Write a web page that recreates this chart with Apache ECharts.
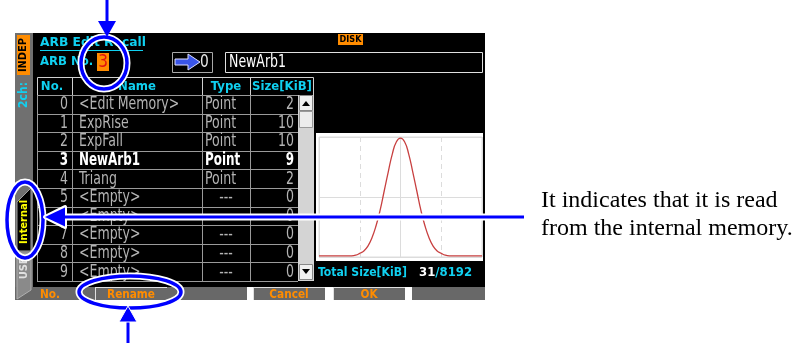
<!DOCTYPE html>
<html><head><meta charset="utf-8">
<script src="https://cdn.jsdelivr.net/npm/echarts@6/dist/echarts.min.js"></script>
<style>html,body{margin:0;padding:0;background:#fff}#c{width:792px;height:343px}</style>
</head><body><div id="c"></div>
<script>
// ---- data ----
const colNames = ['No.', 'Name', 'Type', 'Size[KiB]'];
const rowNo = [0, 1, 2, 3, 4, 5, 6, 7, 8, 9];
const rowName = ['<Edit Memory>', 'ExpRise', 'ExpFall', 'NewArb1', 'Triang', '<Empty>', '<Empty>', '<Empty>', '<Empty>', '<Empty>'];
const rowType = ['Point', 'Point', 'Point', 'Point', 'Point', '---', '---', '---', '---', '---'];
const rowSize = [2, 10, 10, 9, 2, 0, 0, 0, 0, 0];
const selectedRow = 3;
const buttons = ['No.', 'Rename', '', 'Cancel', 'OK', ''];
// waveform preview (x position 0-100 across preview, y fraction of preview height)
const waveX = [0,2.5,5,7.5,10,12.5,15,17.5,20,22.5,25,27.5,30,32.5,35,37.5,40,42.5,45,47.5,50,52.5,55,57.5,60,62.5,65,67.5,70,72.5,75,77.5,80,82.5,85,87.5,90,92.5,95,97.5,100];
const waveY = [0.01,0.01,0.01,0.01,0.01,0.01,0.01,0.01,0.01,0.015,0.03,0.05,0.09,0.16,0.26,0.39,0.55,0.71,0.86,0.96,0.99,0.96,0.86,0.71,0.55,0.39,0.26,0.16,0.09,0.05,0.03,0.015,0.01,0.01,0.01,0.01,0.01,0.01,0.01,0.01,0.01];
const totalUsed = 31, totalMax = 8192;
const arbNo = 3, targetNo = 0, arbName = 'NewArb1';
const noteLines = ['It indicates that it is read', 'from the internal memory.'];

// ---- drawing ----
const chart = echarts.init(document.getElementById('c'));
const CY = '#10d0f0', GR = '#b4b4b4', OR = '#ff8c00', LINE = '#9a9a9a';
const UIF = '"DejaVu Sans Condensed", "DejaVu Sans", sans-serif';
const g = [];
const rect = (x, y, w, h, fill, stroke, lw, z) => g.push({type: 'rect', shape: {x, y, width: w, height: h}, style: {fill: fill || 'none', stroke: stroke || null, lineWidth: lw || 1}, z: z || 1});
const text = (x, y, t, o) => g.push({type: 'text', x, y, scaleX: o.sx || 1, style: {text: t, font: o.font, fill: o.fill, textAlign: o.align || 'left', textVerticalAlign: 'middle'}, z: o.z || 3, rotation: o.rot || 0});
const line = (x1, y1, x2, y2, stroke, lw, z) => g.push({type: 'line', shape: {x1, y1, x2, y2}, style: {stroke, lineWidth: lw}, z: z || 2});

// screen background
rect(15, 33, 470, 254, '#000', null, 1, 0);
// left strip
rect(15, 33, 18, 254, '#707070', null, 1, 1);
rect(17, 35, 13, 40, OR, null, 1, 2);
text(23.5, 55, 'INDEP', {font: 'bold 11px ' + UIF, fill: '#000', align: 'center', rot: Math.PI / 2});
text(24, 95, '2ch:', {font: 'bold 12px ' + UIF, fill: CY, align: 'center', rot: Math.PI / 2});
g.push({type: 'polygon', shape: {points: [[17, 202], [31, 188], [31, 251], [17, 251]]}, style: {fill: '#000', stroke: '#a0a0a0'}, z: 2});
text(24, 222, 'Internal', {font: 'bold 11px ' + UIF, fill: '#ffff00', align: 'center', rot: Math.PI / 2});
g.push({type: 'polygon', shape: {points: [[17, 253], [31, 253], [31, 290], [17, 299]]}, style: {fill: '#8a8a8a', stroke: '#b0b0b0'}, z: 2});
text(24, 268, 'USB', {font: 'bold 11px ' + UIF, fill: '#e0e0e0', align: 'center', rot: Math.PI / 2});

// title area
text(40, 43, 'ARB Edit Recall', {font: 'bold 13px ' + UIF, fill: CY, sx: 1.05});
line(40, 50.5, 143, 50.5, CY, 1, 3);
text(40, 62, 'ARB No.', {font: 'bold 13px ' + UIF, fill: CY});
rect(97, 53, 12, 18, OR, null, 1, 2);
text(103, 62.5, String(arbNo), {font: '17px ' + UIF, fill: '#e01010', align: 'center'});
rect(338, 34, 25, 11, OR, null, 1, 2);
text(350.5, 39.5, 'DISK', {font: 'bold 9px ' + UIF, fill: '#000', align: 'center'});
rect(172.5, 52.5, 40, 20, '#000', '#a8a8a8', 1, 2);
g.push({type: 'polygon', shape: {points: [[175, 59], [188, 59], [188, 54], [200, 62], [188, 70], [188, 65], [175, 65]]}, style: {fill: '#3a55e8', stroke: '#e0e0ff', lineWidth: 1}, z: 3});
text(200, 62.5, String(targetNo), {font: '18px ' + UIF, fill: '#e8e8e8', sx: 0.85});
rect(225.5, 52.5, 257, 20, '#000', '#e0e0e0', 1, 2);
text(229, 62.5, arbName, {font: '17px ' + UIF, fill: '#fff', sx: 0.82});

// table
const colX = [37, 72, 202, 250, 298];
const hdrTop = 77, rowTop = 95, rowH = 18.6;
rect(37.5, hdrTop + 0.5, 276, rowTop - hdrTop, '#000', '#d0d0d0', 1, 2);
[72, 202, 250].forEach(x => line(x + 0.5, hdrTop, x + 0.5, rowTop, '#d0d0d0', 1, 2));
const hdrCx = [52, 137, 226, 282];
colNames.forEach((n, i) => text(hdrCx[i], 86.5, n, {font: 'bold 13px ' + UIF, fill: CY, align: 'center'}));
const tblBottom = rowTop + rowH * rowNo.length;
for (let i = 0; i <= rowNo.length; i++) line(37, Math.round(rowTop + i * rowH) + 0.5, 298, Math.round(rowTop + i * rowH) + 0.5, LINE, 1, 2);
colX.forEach(x => line(x + 0.5, rowTop, x + 0.5, tblBottom, LINE, 1, 2));
rowNo.forEach((n, i) => {
  const y = rowTop + i * rowH + rowH / 2 + 0.5;
  const sel = i === selectedRow;
  const f = (sel ? 'bold ' : '') + '17px ' + UIF;
  const c = sel ? '#ffffff' : GR;
  const sx = sel ? 0.78 : 0.82;
  text(68, y, String(n), {font: f, fill: c, align: 'right', sx});
  text(79, y, rowName[i], {font: f, fill: c, sx});
  if (rowType[i] === '---') text(226, y, rowType[i], {font: f, fill: c, align: 'center', sx});
  else text(205, y, rowType[i], {font: f, fill: c, sx});
  text(294, y, String(rowSize[i]), {font: f, fill: c, align: 'right', sx});
});
// scrollbar
rect(298, 95, 16, tblBottom - 95, '#d4d4d4', null, 1, 2);
rect(299.5, 95.5, 13, 15, '#f0f0f0', '#888', 1, 3);
g.push({type: 'polygon', shape: {points: [[302, 106], [310, 106], [306, 101]]}, style: {fill: '#000'}, z: 4});
rect(299.5, 111.5, 13, 16, '#ececec', '#999', 1, 3);
rect(299.5, tblBottom - 16.5, 13, 15, '#f0f0f0', '#888', 1, 3);
g.push({type: 'polygon', shape: {points: [[302, tblBottom - 12], [310, tblBottom - 12], [306, tblBottom - 7]]}, style: {fill: '#000'}, z: 4});

// preview background
rect(316, 133, 167, 128, '#fff', null, 1, 1);
// total size
text(318, 273, 'Total Size[KiB]', {font: 'bold 13px ' + UIF, fill: CY, sx: 0.93});
g.push({type: 'text', x: 419, y: 273, style: {text: '{a|' + totalUsed + '}{b|/' + totalMax + '}', textVerticalAlign: 'middle', rich: {a: {font: 'bold 13px ' + UIF, fill: '#fff'}, b: {font: 'bold 13px ' + UIF, fill: CY}}}, z: 3});

// bottom button bar
rect(15, 287, 232, 13, '#686868', null, 1, 1);
rect(253, 287, 72, 13, '#686868', null, 1, 1);
rect(333, 287, 72, 13, '#686868', null, 1, 1);
rect(412, 287, 73, 13, '#686868', null, 1, 1);
[[95, 72], [253, 72], [333, 72]].forEach(([x, w]) => {
  line(x + 0.5, 287, x + 0.5, 300, '#e0e0e0', 1, 2);
  line(x, 287.5, x + w, 287.5, '#e0e0e0', 1, 2);
});
const btnCx = [50, 131, 211, 289, 369, 448];
buttons.forEach((b, i) => { if (b) text(btnCx[i], 294.5, b, {font: 'bold 13px ' + UIF, fill: OR, align: 'center', sx: 0.9}); });

// annotations
const BL = '#0000ff';
const ell = (cx, cy, rx, ry) => {
  g.push({type: 'ellipse', shape: {cx, cy, rx, ry}, style: {fill: 'none', stroke: '#fff', lineWidth: 7}, z: 20});
  g.push({type: 'ellipse', shape: {cx, cy, rx, ry}, style: {fill: 'none', stroke: BL, lineWidth: 3.5}, z: 21});
};
ell(104, 63, 23, 26);
ell(25, 220, 18, 38);
ell(130, 292, 51, 16);
// top arrow
line(107, 0, 107, 24, BL, 3, 22);
g.push({type: 'polygon', shape: {points: [[98, 21], [116, 21], [107, 37]]}, style: {fill: BL}, z: 22});
// bottom arrow
line(128, 319, 128, 343, BL, 3, 22);
g.push({type: 'polygon', shape: {points: [[119, 322], [137, 322], [128, 306]]}, style: {fill: BL, stroke: '#fff', lineWidth: 1}, z: 22});
// horizontal arrow
line(60, 217, 524, 217, '#fff', 7, 22);
g.push({type: 'polygon', shape: {points: [[45, 217], [65, 207], [65, 227]]}, style: {fill: '#fff', stroke: '#fff', lineWidth: 4, lineJoin: 'round'}, z: 22});
line(60, 217, 524, 217, BL, 3, 23);
g.push({type: 'polygon', shape: {points: [[45, 217], [65, 207.5], [65, 226.5]]}, style: {fill: BL}, z: 23});
// note text
noteLines.forEach((t, i) => text(541, 201 + i * 28, t, {font: '24px "Liberation Serif", "Times New Roman", serif', fill: '#000'}));

chart.setOption({
  animation: false,
  backgroundColor: '#fff',
  grid: {left: 319, top: 137, width: 163, height: 120, show: true, borderColor: '#dcdcdc', borderWidth: 1, z: 5},
  xAxis: [
    {type: 'value', min: 0, max: 100, interval: 25, axisLine: {show: false}, axisTick: {show: false}, axisLabel: {show: false}, splitLine: {show: true, lineStyle: {color: '#dcdcdc', type: [5, 4], width: 1}}, z: 5},
    {type: 'value', min: 0, max: 100, interval: 50, axisLine: {show: false}, axisTick: {show: false}, axisLabel: {show: false}, splitLine: {show: true, lineStyle: {color: '#dcdcdc', width: 1}}, z: 6}
  ],
  yAxis: {type: 'value', min: 0, max: 1, interval: 0.5, axisLine: {show: false}, axisTick: {show: false}, axisLabel: {show: false}, splitLine: {show: true, lineStyle: {color: '#dcdcdc', width: 1}}, z: 5},
  series: [{type: 'line', xAxisIndex: 0, data: waveX.map((x, i) => [x, waveY[i]]), showSymbol: false, smooth: true, lineStyle: {color: '#c84040', width: 1.3}, z: 8}],
  graphic: {elements: g}
});
</script>
</body></html>
